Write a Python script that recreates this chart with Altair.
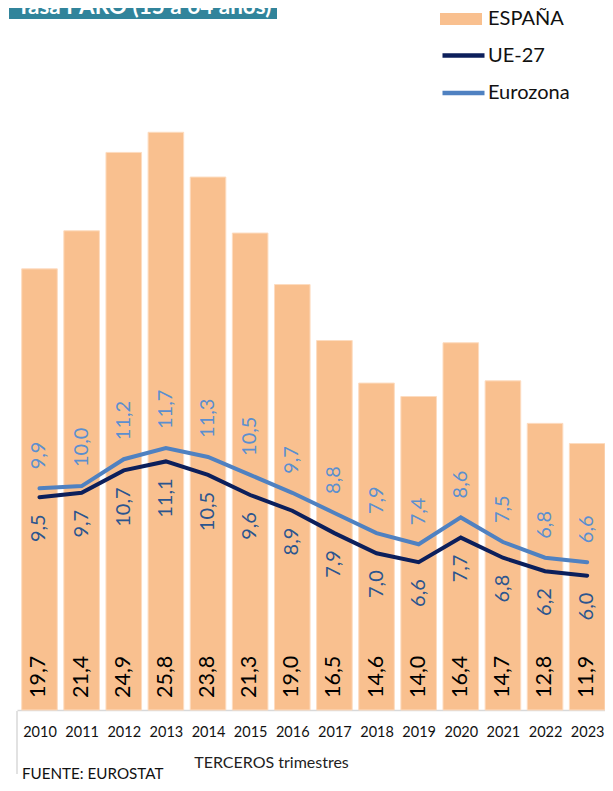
import altair as alt
import pandas as pd

years = [2010, 2011, 2012, 2013, 2014, 2015, 2016,
         2017, 2018, 2019, 2020, 2021, 2022, 2023]
espana = [19.7, 21.4, 24.9, 25.8, 23.8, 21.3, 19.0, 16.5, 14.6, 14.0, 16.4, 14.7, 12.8, 11.9]
ue27 = [9.5, 9.7, 10.7, 11.1, 10.5, 9.6, 8.9, 7.9, 7.0, 6.6, 7.7, 6.8, 6.2, 6.0]
eurozona = [9.9, 10.0, 11.2, 11.7, 11.3, 10.5, 9.7, 8.8, 7.9, 7.4, 8.6, 7.5, 6.8, 6.6]

def fmt(v):
    return f"{v:.1f}".replace(".", ",")

bars_df = pd.DataFrame({"year": years, "value": espana, "pais": "ESPAÑA",
                        "label": [fmt(v) for v in espana]})
lines_df = pd.concat([
    pd.DataFrame({"year": years, "value": ue27, "serie": "UE-27",
                  "label": [fmt(v) for v in ue27]}),
    pd.DataFrame({"year": years, "value": eurozona, "serie": "Eurozona",
                  "label": [fmt(v) for v in eurozona]}),
])

FONT = "Lato"
W, H = 588, 627

xscale = alt.Scale(domain=[2009.466, 2023.423], nice=False, zero=False, padding=0)
yscale = alt.Scale(domain=[0, 28], nice=False)

x = alt.X("year:Q", scale=xscale,
          axis=alt.Axis(title="TERCEROS trimestres", values=years, format="d",
                        labelAngle=0, labelFontSize=14.5, labelFont=FONT, labelColor="#111",
                        ticks=False, tickSize=0, grid=False, labelFlush=False,
                        labelOverlap=False, labelPadding=15.5, domainColor="#d9d9d9",
                        domainWidth=1.5, titleFont=FONT, titleFontSize=16,
                        titleFontWeight="normal", titleColor="#222", titleX=254, titleY=52,
                        titleAlign="center", titleBaseline="middle"))
xs = alt.X("year:Q", scale=xscale)
y = alt.Y("value:Q", scale=yscale, axis=None)

bars = alt.Chart(bars_df).mark_bar(width=35.6, stroke="#fddcc0", strokeWidth=1).encode(
    x=x, y=y,
    fill=alt.Fill("pais:N", scale=alt.Scale(domain=["ESPAÑA"], range=["#f9c08f"]),
                  legend=alt.Legend(title=None, orient="none", legendX=423, legendY=-85,
                                    symbolType="M-1,-0.29H1V0.29H-1Z", symbolSize=1764,
                                    symbolStrokeWidth=0, labelFontSize=20, labelFont=FONT,
                                    labelColor="#111", labelOffset=6, padding=0)),
)

bar_labels = alt.Chart(bars_df).mark_text(angle=270, align="left", baseline="middle",
                                          fontSize=21.5, font=FONT, color="#000").encode(
    x=xs, y=alt.value(H - 12), text="label:N")

lines = alt.Chart(lines_df).mark_line(strokeWidth=4, strokeCap="round").encode(
    x=xs, y=y,
    stroke=alt.Stroke("serie:N", scale=alt.Scale(domain=["UE-27", "Eurozona"],
                                                  range=["#0c1f5b", "#4f81c1"]),
                      legend=alt.Legend(title=None, orient="none", legendX=423, legendY=-51,
                                        symbolType="stroke", symbolSize=1764,
                                        symbolStrokeWidth=4.5, labelFontSize=20,
                                        labelFont=FONT, labelColor="#111", labelOffset=1,
                                        rowPadding=3.5, padding=0)),
    detail="serie:N",
)

ue_labels = alt.Chart(lines_df[lines_df.serie == "UE-27"]).mark_text(
    angle=270, align="right", baseline="middle", dx=-17, fontSize=20, font=FONT,
    color="#2b558f").encode(x=xs, y=y, text="label:N")

ez_labels = alt.Chart(lines_df[lines_df.serie == "Eurozona"]).mark_text(
    angle=270, align="left", baseline="middle", dx=19, fontSize=20, font=FONT,
    color="#5b8fcf").encode(x=xs, y=y, text="label:N")

title_df = pd.DataFrame({"t": ["Tasa PARO (15 a 64 años)"]})
title_box = alt.Chart(title_df).mark_rect(color="#31849b").encode(
    x=alt.value(-8), x2=alt.value(260), y=alt.value(-75), y2=alt.value(-64))
title_text = alt.Chart(title_df).mark_text(align="left", baseline="alphabetic", fontSize=22.5,
                                           fontWeight="bold", font=FONT, color="white").encode(
    x=alt.value(0), y=alt.value(-69), text="t:N")

left_rule = alt.Chart(title_df).mark_rule(color="#d9d9d9", strokeWidth=1.5).encode(
    x=alt.value(0), y=alt.value(H + 1), y2=alt.value(H + 64))

footer = alt.Chart(pd.DataFrame({"t": ["FUENTE: EUROSTAT"]})).mark_text(
    align="left", baseline="alphabetic", fontSize=15.2, font=FONT, color="#111").encode(
    x=alt.value(5), y=alt.value(H + 69), text="t:N")

chart = alt.layer(bars, bar_labels, lines, ue_labels, ez_labels, title_box, title_text,
                  left_rule, footer).resolve_scale(fill="independent", stroke="independent").properties(
    width=W, height=H,
    autosize=alt.AutoSizeParams(type="none"),
    padding={"left": 9, "top": 75, "right": 0, "bottom": 73},
).configure_view(stroke=None)

chart.save("out.html", embed_options={"renderer": "svg", "actions": False})
